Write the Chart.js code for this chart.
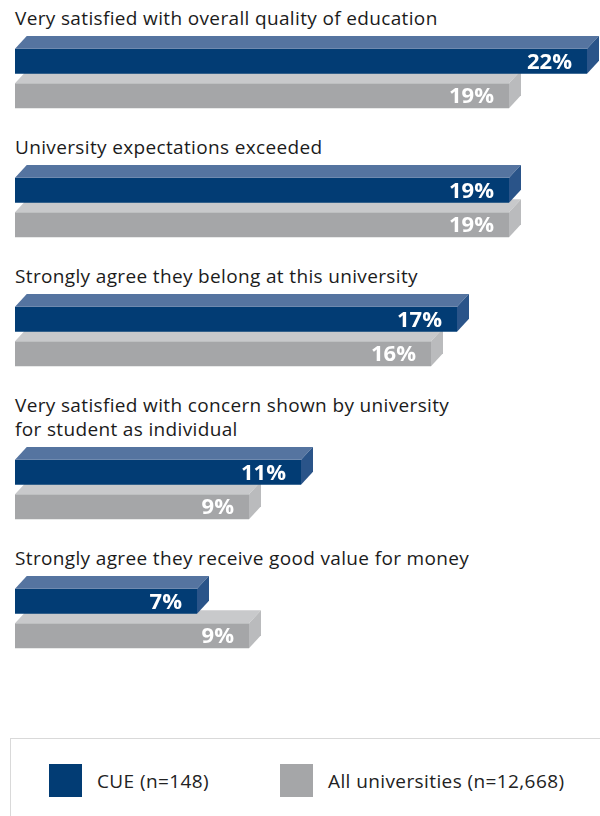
<!DOCTYPE html>
<html>
<head>
<meta charset="utf-8">
<script src="https://cdn.jsdelivr.net/npm/chart.js@4.4.1/dist/chart.umd.min.js"></script>
<style>
  body { margin: 0; padding-top: 6px; width: 600px; height: 816px; overflow: hidden; background: #fff; font-family: "Open Sans", sans-serif; position: relative; }
  .group { margin-bottom: 22px; }
  .group h3 { margin: 0 0 6px 15px; font-weight: normal; font-size: 19px; line-height: 24px; color: #1b1b1b; letter-spacing: 0.35px; }
  .group canvas { display: block; }
  #legend { position: absolute; left: 10px; top: 738px; width: 620px; height: 120px; border: 1.5px solid #d9d9d9; box-sizing: border-box; }
  .key { position: absolute; top: 25px; display: flex; align-items: center; font-size: 19px; letter-spacing: 0.4px; color: #222; }
  .key span.sw { width: 33px; height: 33px; margin-right: 15px; display: inline-block; }
</style>
</head>
<body>
<div id="charts"></div>
<div id="legend"></div>

<script>
'use strict';

let questions = [
  ['Very satisfied with overall quality of education'],
  ['University expectations exceeded'],
  ['Strongly agree they belong at this university'],
  ['Very satisfied with concern shown by university', 'for student as individual'],
  ['Strongly agree they receive good value for money']
];
let cueValues = [22, 19, 17, 11, 7];
let allValues = [19, 19, 16, 9, 9];
let seriesNames = ['CUE (n=148)', 'All universities (n=12,668)'];

// front, top, side shades for each series
let blueShades = ['#023c74', '#5574a0', '#2a5489'];
let greyShades = ['#a5a6a8', '#c8c9cb', '#babbbd'];

let depthX = 12;
let depthY = 13;

// draws the top and right faces so the bars look like blocks
let blockFaces = {
  id: 'blockFaces',
  afterDatasetDraw(chart, args) {
    let ctx = chart.ctx;
    let shades = args.index === 0 ? blueShades : greyShades;
    args.meta.data.forEach(function (bar) {
      let p = bar.getProps(['x', 'y', 'base', 'height'], true);
      let top = p.y - p.height / 2;
      let bottom = p.y + p.height / 2;
      ctx.save();
      ctx.fillStyle = shades[1];
      ctx.beginPath();
      ctx.moveTo(p.base, top);
      ctx.lineTo(p.base + depthX, top - depthY);
      ctx.lineTo(p.x + depthX, top - depthY);
      ctx.lineTo(p.x, top);
      ctx.closePath();
      ctx.fill();
      ctx.fillStyle = shades[2];
      ctx.beginPath();
      ctx.moveTo(p.x, top);
      ctx.lineTo(p.x + depthX, top - depthY);
      ctx.lineTo(p.x + depthX, bottom - depthY);
      ctx.lineTo(p.x, bottom);
      ctx.closePath();
      ctx.fill();
      ctx.restore();
    });
  },
  afterDatasetsDraw(chart) {
    let ctx = chart.ctx;
    ctx.save();
    ctx.fillStyle = '#fff';
    ctx.font = 'bold 22px "Open Sans", sans-serif';
    ctx.textAlign = 'right';
    ctx.textBaseline = 'middle';
    chart.data.datasets.forEach(function (ds, i) {
      chart.getDatasetMeta(i).data.forEach(function (bar, j) {
        let p = bar.getProps(['x', 'y'], true);
        ctx.fillText(ds.data[j] + '%', p.x - 15, p.y + 1);
      });
    });
    ctx.restore();
  }
};

let holder = document.getElementById('charts');

for (let i = 0; i < questions.length; i++) {
  let group = document.createElement('div');
  group.className = 'group';
  let title = document.createElement('h3');
  title.innerHTML = questions[i].join('<br>');
  group.appendChild(title);
  let canvas = document.createElement('canvas');
  canvas.width = 600;
  canvas.height = 77;
  group.appendChild(canvas);
  holder.appendChild(group);

  new Chart(canvas.getContext('2d'), {
    type: 'bar',
    data: {
      labels: [''],
      datasets: [{
        label: seriesNames[0],
        data: [cueValues[i]],
        backgroundColor: blueShades[0]
      },
      {
        label: seriesNames[1],
        data: [allValues[i]],
        backgroundColor: greyShades[0]
      }]
    },
    options: {
      indexAxis: 'y',
      responsive: false,
      animation: false,
      devicePixelRatio: 1,
      layout: { padding: { left: 15, top: 8, right: 0, bottom: 0 } },
      datasets: {
        bar: { categoryPercentage: 1, barPercentage: 0.725, borderWidth: 0 }
      },
      scales: {
        x: { min: 0, max: 22.5, display: false },
        y: { display: false }
      },
      plugins: {
        legend: { display: false },
        tooltip: { enabled: false }
      }
    },
    plugins: [blockFaces]
  });
}

// legend box underneath
let legend = document.getElementById('legend');
let keyLeft = [38, 269];
let keyColours = [blueShades[0], greyShades[0]];
for (let i = 0; i < seriesNames.length; i++) {
  let key = document.createElement('div');
  key.className = 'key';
  key.style.left = keyLeft[i] + 'px';
  key.innerHTML = '<span class="sw" style="background:' + keyColours[i] + '"></span>' + seriesNames[i];
  legend.appendChild(key);
}
</script>
</body>
</html>
